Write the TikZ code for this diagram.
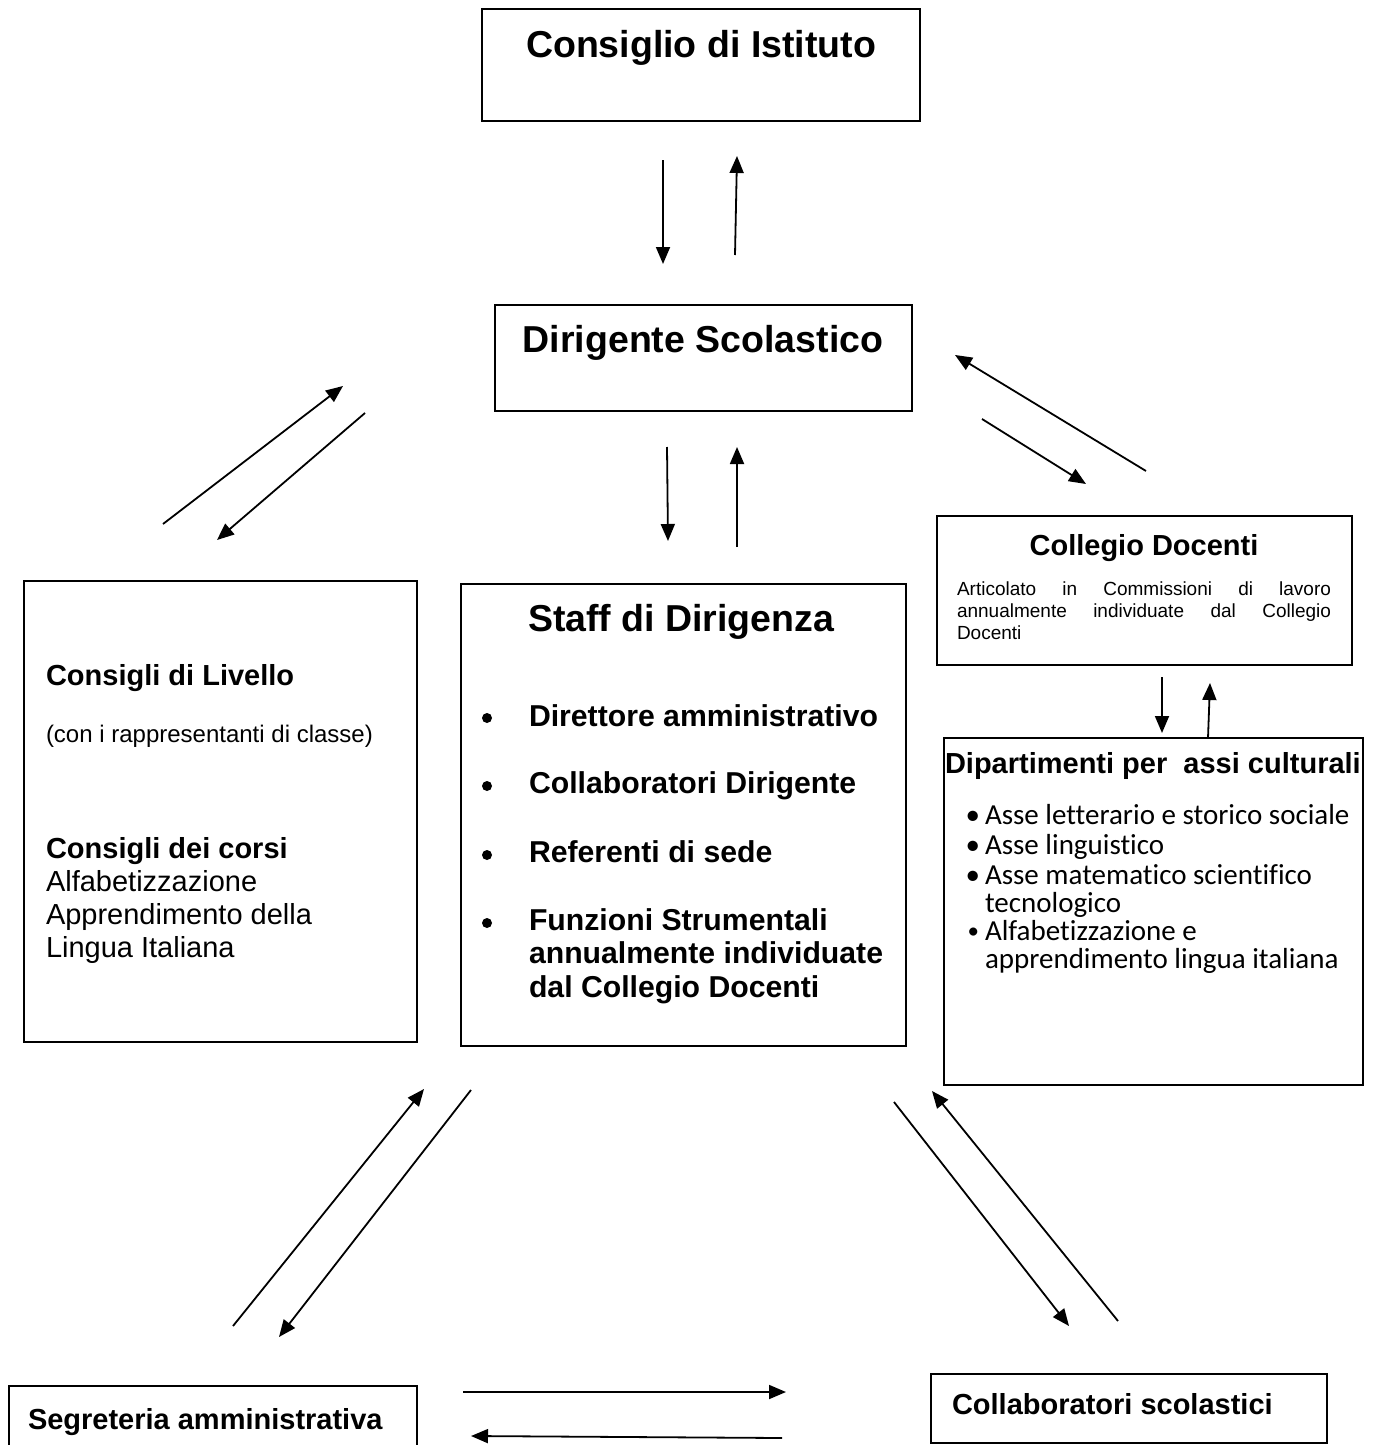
\documentclass[tikz,border=0pt]{standalone}
\usepackage{fontspec}
\setmainfont{Liberation Sans}
\newfontfamily\calibrifont[Ligatures=NoCommon]{Carlito}
\usetikzlibrary{arrows.meta}
\newcommand{\setfs}[1]{\fontsize{#1pt}{#1pt}\selectfont}
\begin{document}
\begin{tikzpicture}[x=1pt,y=-1pt,
  box/.style={draw=black, line width=1.8pt, anchor=north west, inner sep=0pt, outer sep=0pt},
  txt/.style={anchor=base west, inner sep=0pt, outer sep=0pt},
  ctxt/.style={anchor=base, inner sep=0pt, outer sep=0pt},
  bul/.style={anchor=base east, inner sep=0pt, outer sep=0pt, font=\calibrifont\setfs{29}},
  conn/.style={line width=1.8pt, -{Triangle[length=17pt,width=14pt]}},
]
\useasboundingbox (0,0) rectangle (1380,1445);
\clip (0,0) rectangle (1380,1445);
\fill[white] (0,0) rectangle (1380,1445);

% boxes
\node[box, minimum width=438pt, minimum height=112pt] (ci) at (482,9) {};
\node[box, minimum width=417pt, minimum height=106pt] (ds) at (495,305) {};
\node[box, minimum width=445pt, minimum height=462pt] (staff) at (461,584) {};
\node[box, minimum width=393pt, minimum height=461pt] (liv) at (24,581) {};
\node[box, minimum width=415pt, minimum height=149pt] (coll) at (937,516) {};
\node[box, minimum width=419pt, minimum height=347pt] (dip) at (944,738) {};
\node[box, minimum width=408pt, minimum height=75pt] (seg) at (9,1386) {};
\node[box, minimum width=396pt, minimum height=69pt] (cs) at (931,1374) {};

% Consiglio di Istituto / Dirigente
\node[ctxt, font=\setfs{37.5}\bfseries] (tci) at (701,57) {Consiglio di Istituto};
\node[ctxt, font=\setfs{37.5}\bfseries] (tds) at (703,352) {Dirigente Scolastico};

% Staff di Dirigenza
\node[txt, font=\setfs{37.5}\bfseries] (tst) at (528,631) {Staff di Dirigenza};
\begin{scope}[every node/.style={txt, font=\setfs{30.2}\bfseries}]
\node (s1) at (529,726) {Direttore amministrativo};
\node (s2) at (529,793) {Collaboratori Dirigente};
\node (s3) at (529,862) {Referenti di sede};
\node (s4) at (529,930) {Funzioni Strumentali};
\node (s5) at (529,963) {annualmente individuate};
\node (s6) at (529,997) {dal Collegio Docenti};
\end{scope}
\foreach \yy in {718,786,855,923} \fill (487,\yy) circle (5pt);

% Consigli di Livello
\node[txt, font=\setfs{29}\bfseries] (l1) at (46,685) {Consigli di Livello};
\node[txt, font=\setfs{24}] (l2) at (46,742) {(con i rappresentanti di classe)};
\node[txt, font=\setfs{29}\bfseries] (l3) at (46,858) {Consigli dei corsi};
\node[txt, font=\setfs{29}] (l4) at (46,891) {Alfabetizzazione};
\node[txt, font=\setfs{29}] (l5) at (46,924) {Apprendimento della};
\node[txt, font=\setfs{29}] (l6) at (46,957) {Lingua Italiana};

% Collegio Docenti
\node[ctxt, font=\setfs{29}\bfseries] (tco) at (1144,555) {Collegio Docenti};
\node[txt, font=\setfs{19}] (c1) at (957,595) {\makebox[374pt][s]{Articolato in Commissioni di lavoro}};
\node[txt, font=\setfs{19}] (c2) at (957,617) {\makebox[374pt][s]{annualmente individuate dal Collegio}};
\node[txt, font=\setfs{19}] (c3) at (957,639) {Docenti};

% Dipartimenti
\node[txt, font=\setfs{29}\bfseries] (tdp) at (945,773) {Dipartimenti per\ \ assi culturali};
\begin{scope}[every node/.style={txt, font=\calibrifont\setfs{29}}]
\node (d1) at (985,824) {Asse letterario e storico sociale};
\node (d2) at (985,854) {Asse linguistico};
\node (d3) at (985,884) {Asse matematico scientifico};
\node (d4) at (985,912) {tecnologico};
\node (d5) at (985,940) {Alfabetizzazione e};
\node (d6) at (985,968) {apprendimento lingua italiana};
\end{scope}
\node[bul] (b1) at (980,824) {•};
\node[bul] (b2) at (980,854) {•};
\node[bul] (b3) at (980,884) {•};
\node[bul, font=\calibrifont\setfs{23}] (b4) at (979,938) {•};

% bottom boxes text
\node[txt, font=\setfs{29}\bfseries] (tsg) at (28,1429) {Segreteria amministrativa};
\node[txt, font=\setfs{29}\bfseries] (tcs) at (952,1414) {Collaboratori scolastici};

% connector end points
\coordinate (a1s) at (663,160);  \coordinate (a1e) at (663,264);
\coordinate (a2s) at (735,255);  \coordinate (a2e) at (737,156);
\coordinate (a3s) at (667,447);  \coordinate (a3e) at (668,541);
\coordinate (a4s) at (737,547);  \coordinate (a4e) at (737,447);
\coordinate (a5s) at (163,524);  \coordinate (a5e) at (343,386);
\coordinate (a6s) at (365,413);  \coordinate (a6e) at (217,540);
\coordinate (a7s) at (1146,471); \coordinate (a7e) at (955,355);
\coordinate (a8s) at (982,419);  \coordinate (a8e) at (1086,484);
\coordinate (a9s) at (1162,677); \coordinate (a9e) at (1162,733);
\coordinate (a10s) at (1208,738); \coordinate (a10e) at (1210,683);
\coordinate (a11s) at (233,1326); \coordinate (a11e) at (424,1089);
\coordinate (a12s) at (471,1090); \coordinate (a12e) at (279,1337);
\coordinate (a13s) at (894,1102); \coordinate (a13e) at (1069,1326);
\coordinate (a14s) at (1118,1321); \coordinate (a14e) at (932,1091);
\coordinate (a15s) at (463,1392); \coordinate (a15e) at (786,1392);
\coordinate (a16s) at (782,1438); \coordinate (a16e) at (471,1436);

\foreach \i in {1,...,16} \draw[conn] (a\i s) -- (a\i e);
\end{tikzpicture}
\end{document}
